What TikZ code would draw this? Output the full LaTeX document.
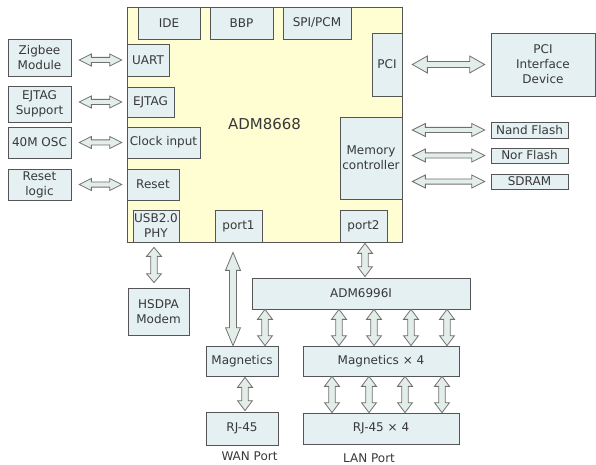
\documentclass[tikz,border=0pt]{standalone}
\usepackage{fontspec}
\setmainfont{DejaVu Sans}
\usepackage{tikz}
\usetikzlibrary{calc}

\definecolor{chipfill}{HTML}{FFFDD2}
\definecolor{boxfill}{HTML}{E5F0F2}
\definecolor{boxline}{HTML}{555555}
\definecolor{txt}{HTML}{383838}
\definecolor{arrfill}{HTML}{E4EEE9}
\definecolor{arrline}{HTML}{707070}

\begin{document}
\begin{tikzpicture}[
  x=1pt, y=-1pt,
  hd/.store in=\arrhw, sh/.store in=\arrsw, hl/.store in=\arrhl,
  ga/.store in=\arrga, gb/.store in=\arrgb,
  hd=7.5, sh=3.2, hl=10, ga=1, gb=1,
  blk/.style={draw=boxline, fill=boxfill, line width=0.7pt, inner sep=0pt, text=txt,
    align=center, font=\fontsize{12}{15}\selectfont},
  lbl/.style={text=txt, font=\fontsize{12}{15}\selectfont},
  link/.style={draw=arrline, fill=arrfill, line width=0.8pt},
  hlink/.style={link, to path={
    let \p1=(\tikztostart), \p2=(\tikztotarget),
        \n1={\x1+\arrga pt}, \n2={\x2-\arrgb pt} in
    (\n1,\y1) -- (\n1+\arrhl pt,\y1+\arrhw pt) -- (\n1+\arrhl pt,\y1+\arrsw pt)
    -- (\n2-\arrhl pt,\y1+\arrsw pt) -- (\n2-\arrhl pt,\y1+\arrhw pt) -- (\n2,\y1)
    -- (\n2-\arrhl pt,\y1-\arrhw pt) -- (\n2-\arrhl pt,\y1-\arrsw pt)
    -- (\n1+\arrhl pt,\y1-\arrsw pt) -- (\n1+\arrhl pt,\y1-\arrhw pt) -- cycle}},
  vlink/.style={link, to path={
    let \p1=(\tikztostart), \p2=(\tikztotarget),
        \n1={\y1-\arrga pt}, \n2={\y2+\arrgb pt} in
    (\x1,\n1) -- (\x1+\arrhw pt,\n1-\arrhl pt) -- (\x1+\arrsw pt,\n1-\arrhl pt)
    -- (\x1+\arrsw pt,\n2+\arrhl pt) -- (\x1+\arrhw pt,\n2+\arrhl pt) -- (\x1,\n2)
    -- (\x1-\arrhw pt,\n2+\arrhl pt) -- (\x1-\arrsw pt,\n2+\arrhl pt)
    -- (\x1-\arrsw pt,\n1-\arrhl pt) -- (\x1-\arrhw pt,\n1-\arrhl pt) -- cycle}}
]
\useasboundingbox (0,0) rectangle (596,465);

% main chip
\node[draw=boxline, fill=chipfill, line width=0.8pt, minimum width=275pt, minimum height=235pt,
  text=txt, font=\fontsize{15}{18}\selectfont] (chip) at (264.5,124.5) {ADM8668};

% blocks inside the chip
\node[blk, minimum width=62pt, minimum height=32pt] (ide) at (169,23) {IDE};
\node[blk, minimum width=63pt, minimum height=32pt] (bbp) at (241.5,23) {BBP};
\node[blk, minimum width=68pt, minimum height=32pt] (spi) at (317,23) {SPI/PCM};
\node[blk, minimum width=30pt, minimum height=63pt] (pci) at (387,64.5) {PCI};
\node[blk, minimum width=42pt, minimum height=32pt] (uart) at (148,60) {UART};
\node[blk, minimum width=47pt, minimum height=30pt] (ejtag) at (150.5,102) {EJTAG};
\node[blk, minimum width=73pt, minimum height=31pt] (clk) at (163.5,142.5) {Clock input};
\node[blk, minimum width=52pt, minimum height=31pt] (rst) at (153,184.5) {Reset};
\node[blk, minimum width=46pt, minimum height=32pt] (usb) at (156,226) {USB2.0\\PHY};
\node[blk, minimum width=47pt, minimum height=32pt] (port1) at (238.5,226) {port1};
\node[blk, minimum width=47pt, minimum height=32pt] (port2) at (363.5,226) {port2};
\node[blk, minimum width=62pt, minimum height=82pt] (mem) at (371,158) {Memory\\controller};

% left side
\node[blk, minimum width=63pt, minimum height=37pt] (zig) at (39.5,57.5) {Zigbee\\Module};
\node[blk, minimum width=63pt, minimum height=36pt] (jtag) at (39.5,104) {EJTAG\\Support};
\node[blk, minimum width=63pt, minimum height=31pt] (osc) at (39.5,142.5) {40M OSC};
\node[blk, minimum width=63pt, minimum height=31pt] (rlog) at (39.5,184.5) {Reset\\logic};

% right side
\node[blk, minimum width=104pt, minimum height=63pt] (pcidev) at (543,64.5) {PCI\\Interface\\Device};
\node[blk, minimum width=77pt, minimum height=16pt] (nand) at (529.5,130) {Nand Flash};
\node[blk, minimum width=77pt, minimum height=15pt] (nor) at (529.5,155.5) {Nor Flash};
\node[blk, minimum width=77pt, minimum height=15pt] (sdram) at (529.5,181.5) {SDRAM};

% below
\node[blk, minimum width=61pt, minimum height=47pt] (hsdpa) at (158.5,311.5) {HSDPA\\Modem};
\node[blk, minimum width=218pt, minimum height=31pt] (adm) at (361,293.5) {ADM6996I};
\node[blk, minimum width=72pt, minimum height=30pt] (mag) at (242,361) {Magnetics};
\node[blk, minimum width=156pt, minimum height=30pt] (mag4) at (381,361) {Magnetics × 4};
\node[blk, minimum width=72pt, minimum height=33pt] (rj) at (242,428.5) {RJ-45};
\node[blk, minimum width=156pt, minimum height=31pt] (rj4) at (381,428.5) {RJ-45 × 4};
\node[lbl] (wan) at (249.5,456) {WAN Port};
\node[lbl] (lan) at (369,458) {LAN Port};

% links
\draw[hlink, hd=6, sh=2.6, hl=12, ga=8, gb=5] (zig.east |- uart.west) to (uart.west);
\draw[hlink, hd=6, sh=2.6, hl=12, ga=8, gb=5] (jtag.east |- ejtag.west) to (ejtag.west);
\draw[hlink, hd=6, sh=2.6, hl=12, ga=8, gb=5] (osc.east |- clk.west) to (clk.west);
\draw[hlink, hd=6, sh=2.6, hl=12, ga=8, gb=5] (rlog.east |- rst.west) to (rst.west);
\draw[hlink, hd=8.5, sh=3, hl=15, ga=10, gb=6] (pci.east) to (pcidev.west);
\draw[hlink, hd=6.5, sh=2.6, hl=13, ga=10, gb=6] (mem.east |- nand.west) to (nand.west);
\draw[hlink, hd=6.5, sh=2.6, hl=13, ga=10, gb=6] (mem.east |- nor.west) to (nor.west);
\draw[hlink, hd=6.5, sh=2.6, hl=13, ga=10, gb=6] (mem.east |- sdram.west) to (sdram.west);

\draw[vlink, hl=9, ga=5, gb=5] ([xshift=-2pt]usb.south) to (hsdpa.north);
\draw[vlink, sh=3.5, hl=18, ga=10, gb=0] ([xshift=-5.5pt]port1.south) to (mag.north);
\draw[vlink] ([xshift=3pt]mag.south) to (rj.north);
\draw[vlink] ([xshift=1.5pt]port2.south) to (adm.north);
\foreach \xa in {265,339,374,411,447}
  \draw[vlink, ga=0, gb=0] (\xa,0 |- adm.south) to (\xa,0 |- mag4.north);
\foreach \xa in {332,369,405,442}
  \draw[vlink, ga=0, gb=0] (\xa,0 |- mag4.south) to (rj4.north);
\end{tikzpicture}
\end{document}
